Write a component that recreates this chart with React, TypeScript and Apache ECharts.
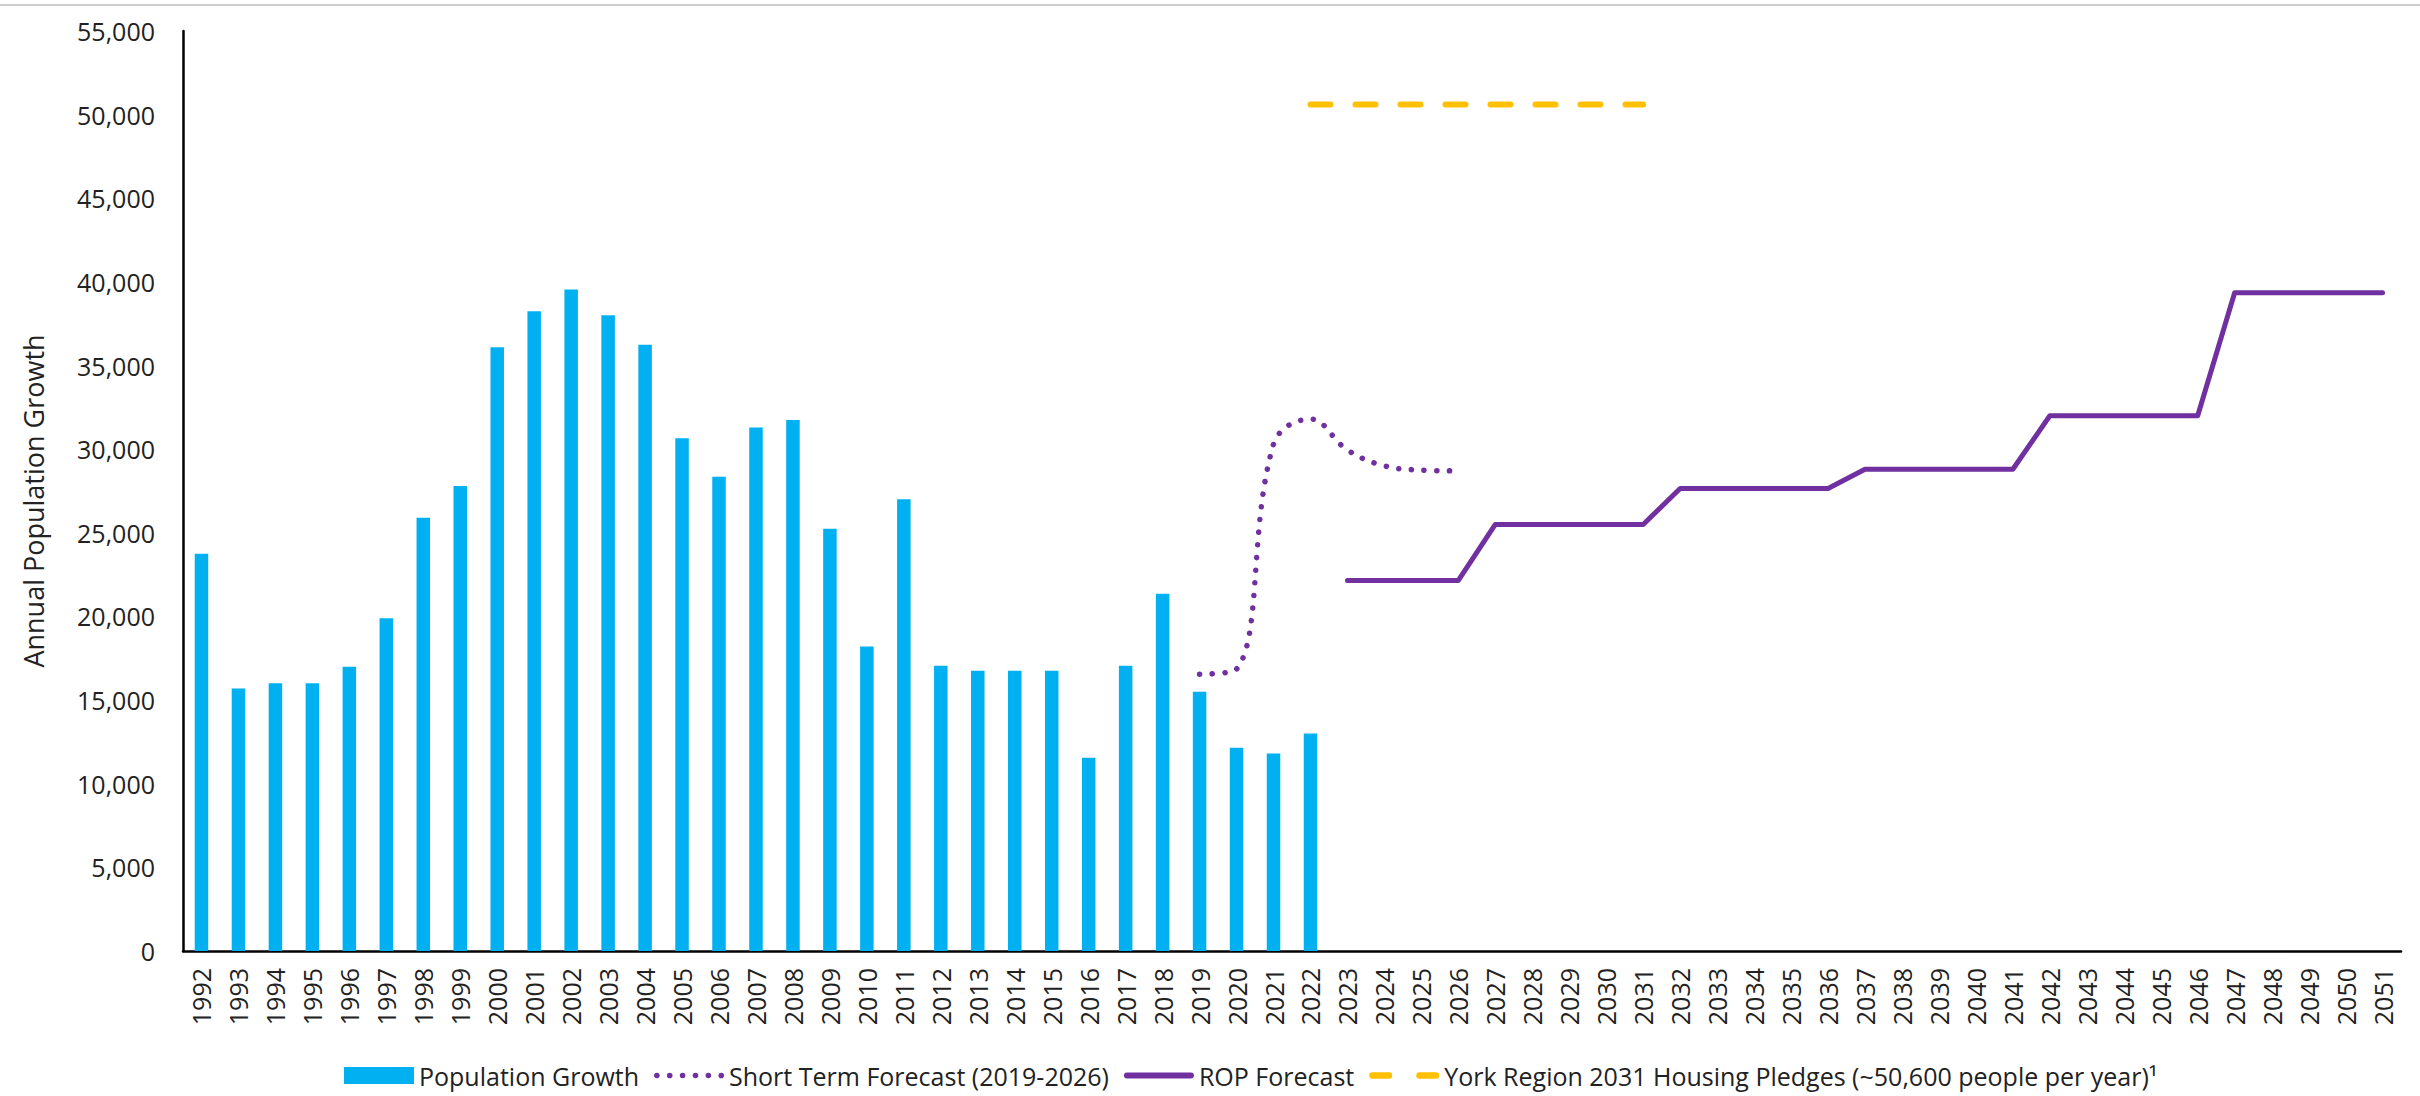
import { useEffect, useRef } from 'react';
import * as echarts from 'echarts';

const years = [
  '1992', '1993', '1994', '1995', '1996', '1997', '1998', '1999', '2000', '2001',
  '2002', '2003', '2004', '2005', '2006', '2007', '2008', '2009', '2010', '2011',
  '2012', '2013', '2014', '2015', '2016', '2017', '2018', '2019', '2020', '2021',
  '2022', '2023', '2024', '2025', '2026', '2027', '2028', '2029', '2030', '2031',
  '2032', '2033', '2034', '2035', '2036', '2037', '2038', '2039', '2040', '2041',
  '2042', '2043', '2044', '2045', '2046', '2047', '2048', '2049', '2050', '2051',
];

// 1992 - 2022
const populationGrowth = [
  23750, 15700, 16000, 16000, 17000, 19900, 25900, 27800, 36100, 38250,
  39550, 38000, 36250, 30650, 28350, 31300, 31750, 25250, 18200, 27000,
  17050, 16750, 16750, 16750, 11550, 17050, 21350, 15500, 12150, 11800,
  13000,
];

// 2019 - 2026
const shortTermForecast = [16550, 16850, 30300, 31800, 29950, 29000, 28750, 28700];

// 2023 - 2051
const ropForecast = [
  22150, 22150, 22150, 22150,
  25500, 25500, 25500, 25500, 25500,
  27650, 27650, 27650, 27650, 27650,
  28800, 28800, 28800, 28800, 28800,
  32000, 32000, 32000, 32000, 32000,
  39350, 39350, 39350, 39350, 39350,
];

// 2022 - 2031
const housingPledges = [50600, 50600, 50600, 50600, 50600, 50600, 50600, 50600, 50600, 50600];

const seriesNames = [
  'Population Growth',
  'Short Term Forecast (2019-2026)',
  'ROP Forecast',
  'York Region 2031 Housing Pledges (~50,600 people per year)¹',
];

const yTicks = { min: 0, max: 55000, interval: 5000 };

function place(startYear: string, values: number[]) {
  const start = years.indexOf(startYear);
  return years.map((_, i) =>
    i >= start && i < start + values.length ? values[i - start] : null
  );
}

// legend icon shapes (styling only)
function dotsIcon(count: number, r: number, width: number) {
  const step = (width - 2 * r) / (count - 1);
  let d = '';
  for (let k = 0; k < count; k++) {
    const cx = r + k * step;
    d += `M${cx - r},${r} a${r},${r} 0 1,0 ${2 * r},0 a${r},${r} 0 1,0 ${-2 * r},0 Z `;
  }
  return 'path://' + d;
}
function pillPath(x0: number, x1: number, h: number) {
  const r = h / 2;
  return `M${x0 + r},0 L${x1 - r},0 A${r},${r} 0 0 1 ${x1 - r},${h} L${x0 + r},${h} A${r},${r} 0 0 1 ${x0 + r},0 Z `;
}
const dottedIcon = dotsIcon(6, 2.8, 70);
const solidIcon = 'path://' + pillPath(0, 70, 6);
const dashedIcon = 'path://' + pillPath(0, 23, 6.5) + pillPath(47, 70, 6.5);

const FONT = '"Open Sans", "Liberation Sans", sans-serif';
const TEXT = '#222222';
const BLUE = '#00B0F0';
const PURPLE = '#7030A0';
const YELLOW = '#FFC000';

export default function App() {
  const ref = useRef<HTMLDivElement>(null);

  useEffect(() => {
    if (!ref.current) return;
    const chart = echarts.init(ref.current, null, { renderer: 'svg' });
    chart.setOption({
      animation: false,
      backgroundColor: '#ffffff',
      grid: { left: 183, right: 19, top: 31, bottom: 145, containLabel: false },
      graphic: [
        {
          type: 'line',
          shape: { x1: 0, y1: 5, x2: 2420, y2: 5 },
          style: { stroke: '#cccccc', lineWidth: 2 },
        },
        {
          type: 'text',
          x: 33,
          y: 501,
          rotation: Math.PI / 2,
          style: {
            text: 'Annual Population Growth',
            fontFamily: FONT,
            fontSize: 27,
            fill: TEXT,
            align: 'center',
            verticalAlign: 'middle',
          },
        },
      ],
      legend: {
        left: 339,
        top: 1058,
        itemWidth: 70,
        itemHeight: 17,
        itemGap: 15,
        symbolKeepAspect: true,
        textStyle: { fontFamily: FONT, fontSize: 25, color: TEXT },
        data: [
          { name: seriesNames[0], icon: 'rect' },
          { name: seriesNames[1], icon: dottedIcon },
          { name: seriesNames[2], icon: solidIcon },
          { name: seriesNames[3], icon: dashedIcon },
        ],
      },
      xAxis: {
        type: 'category',
        data: years,
        boundaryGap: true,
        axisLine: { show: true, lineStyle: { color: '#000000', width: 2.5 } },
        axisTick: { show: false },
        axisLabel: {
          interval: 0,
          rotate: 90,
          margin: 17,
          fontFamily: FONT,
          fontSize: 25,
          color: TEXT,
        },
        splitLine: { show: false },
      },
      yAxis: {
        type: 'value',
        min: yTicks.min,
        max: yTicks.max,
        interval: yTicks.interval,
        axisLine: { show: true, lineStyle: { color: '#000000', width: 2.5 } },
        axisTick: { show: false },
        splitLine: { show: false },
        axisLabel: {
          margin: 28,
          fontFamily: FONT,
          fontSize: 25,
          color: TEXT,
          formatter: (v: number) => v.toLocaleString('en-US'),
        },
      },
      series: [
        {
          name: seriesNames[0],
          type: 'bar',
          data: place('1992', populationGrowth),
          barWidth: 13.5,
          itemStyle: { color: BLUE },
        },
        {
          name: seriesNames[1],
          type: 'line',
          data: place('2019', shortTermForecast),
          symbol: 'none',
          smooth: 0.4,
          connectNulls: false,
          z: 3,
          itemStyle: { color: PURPLE },
          lineStyle: { color: PURPLE, width: 5.5, type: [0.1, 12.6], cap: 'round' },
        },
        {
          name: seriesNames[2],
          type: 'line',
          data: place('2023', ropForecast),
          symbol: 'none',
          z: 3,
          itemStyle: { color: PURPLE },
          lineStyle: { color: PURPLE, width: 5, cap: 'round', join: 'round' },
        },
        {
          name: seriesNames[3],
          type: 'line',
          data: place('2022', housingPledges),
          symbol: 'none',
          z: 3,
          itemStyle: { color: YELLOW },
          lineStyle: { color: YELLOW, width: 6, type: [20, 25], cap: 'round' },
        },
      ],
    });
    return () => chart.dispose();
  }, []);

  return (
    <div
      ref={ref}
      style={{ position: 'fixed', left: 0, top: 0, width: 2420, height: 1096, background: '#fff' }}
    />
  );
}
